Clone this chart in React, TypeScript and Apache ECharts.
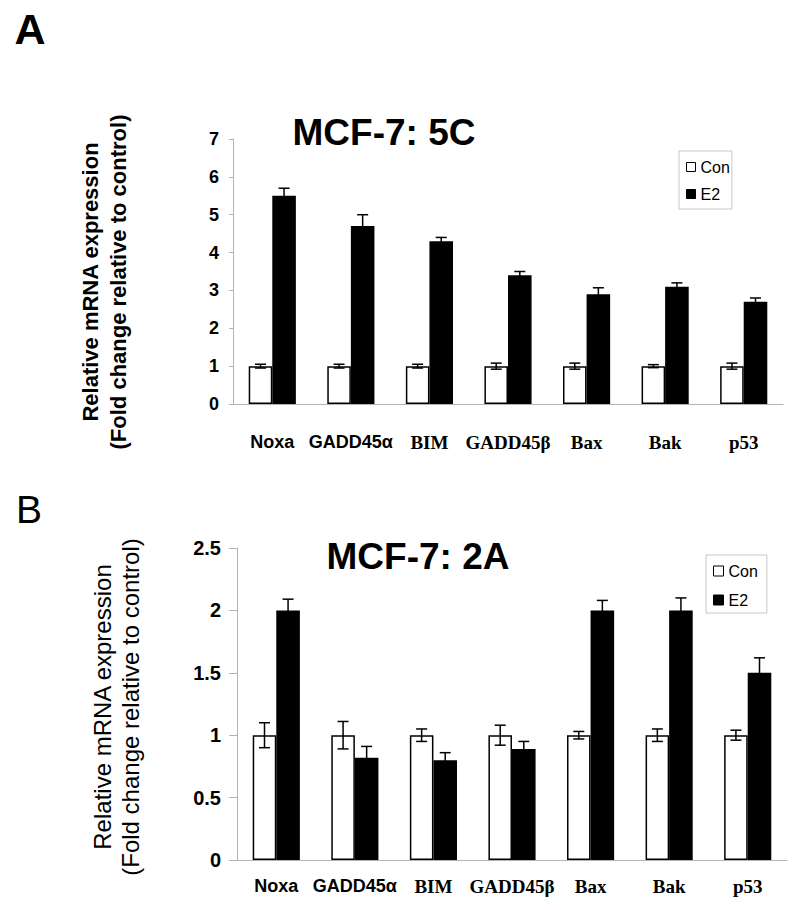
import React, { useEffect, useRef } from "react";
import * as echarts from "echarts";

const categories = ["Noxa", "GADD45α", "BIM", "GADD45β", "Bax", "Bak", "p53"];
const sansLabels = ["Noxa", "GADD45α"];

const conA = [1, 1, 1, 1, 1, 1, 1];
const conErrA = [0.05, 0.05, 0.05, 0.08, 0.08, 0.04, 0.08];
const e2A = [5.5, 4.7, 4.3, 3.4, 2.9, 3.1, 2.7];
const e2ErrA = [0.2, 0.3, 0.1, 0.1, 0.17, 0.1, 0.1];

const conB = [1, 1, 1, 1, 1, 1, 1];
const conErrB = [0.1, 0.11, 0.05, 0.08, 0.03, 0.05, 0.04];
const e2B = [2.0, 0.82, 0.8, 0.89, 2.0, 2.0, 1.5];
const e2ErrB = [0.09, 0.09, 0.06, 0.06, 0.08, 0.1, 0.12];

const SANS = "'Liberation Sans', Arial, sans-serif";
const SERIF = "'Liberation Serif', 'Times New Roman', serif";
const BAR_RATIO = 0.6;

function errData(vals: number[], errs: number[], side: number) {
  return vals.map((v, i) => [i, v, errs[i], side]);
}

function renderErr(params: any, api: any) {
  const cat = api.value(0);
  const val = api.value(1);
  const err = api.value(2);
  const side = api.value(3);
  const base = api.coord([cat, val]);
  const band = api.size([1, 0])[0];
  const bw = (band * BAR_RATIO) / 2;
  const x = base[0] + side * (bw / 2);
  const top = api.coord([cat, val + err])[1];
  const bot = api.coord([cat, val - err])[1];
  const cw = 5.5;
  const st = { stroke: "#000", lineWidth: 1.5 };
  return {
    type: "group",
    children: [
      { type: "line", shape: { x1: x, y1: top, x2: x, y2: bot }, style: st },
      { type: "line", shape: { x1: x - cw, y1: top, x2: x + cw, y2: top }, style: st },
      { type: "line", shape: { x1: x - cw, y1: bot, x2: x + cw, y2: bot }, style: st },
    ],
  };
}

const catLabelFormatter = (v: string) =>
  sansLabels.indexOf(v) >= 0 ? `{s|${v}}` : `{t|${v}}`;

const richLabels = {
  s: { fontFamily: SANS, fontWeight: "bold", fontSize: 18, color: "#000" },
  t: { fontFamily: SERIF, fontWeight: "bold", fontSize: 19, color: "#000" },
};

export default function App() {
  const ref = useRef<HTMLDivElement>(null);
  useEffect(() => {
    if (!ref.current) return;
    const chart = echarts.init(ref.current, undefined, { renderer: "svg" });
    const axisGray = "#b4b4b4";
    const legendData = [
      { name: "Con", icon: "rect", itemStyle: { color: "#fff", borderColor: "#000", borderWidth: 1 } },
      { name: "E2", icon: "rect", itemStyle: { color: "#000", borderColor: "#000", borderWidth: 1 } },
    ];
    const option: any = {
      animation: false,
      backgroundColor: "#fff",
      grid: [
        { left: 233, top: 139, width: 550, height: 265 },
        { left: 237, top: 548, width: 550, height: 312 },
      ],
      legend: [
        {
          orient: "vertical",
          left: 679,
          top: 151,
          data: legendData,
          icon: "rect",
          itemWidth: 9,
          itemHeight: 9,
          itemGap: 11,
          padding: [8, 2, 7, 7],
          borderColor: "#c8c8c8",
          borderWidth: 1,
          textStyle: { fontFamily: SANS, fontSize: 16, color: "#000" },
          selectedMode: false,
        },
        {
          orient: "vertical",
          left: 706,
          top: 555,
          data: legendData,
          icon: "rect",
          itemWidth: 10,
          itemHeight: 10,
          itemGap: 13,
          padding: [8, 9, 5, 7],
          borderColor: "#c8c8c8",
          borderWidth: 1,
          textStyle: { fontFamily: SANS, fontSize: 16, color: "#000" },
          selectedMode: false,
        },
      ],
      xAxis: [
        {
          type: "category",
          gridIndex: 0,
          data: categories,
          axisLine: { lineStyle: { color: axisGray, width: 1 } },
          axisTick: { show: false },
          axisLabel: { interval: 0, margin: 29, formatter: catLabelFormatter, rich: richLabels },
        },
        {
          type: "category",
          gridIndex: 1,
          data: categories,
          axisLine: { lineStyle: { color: axisGray, width: 1 } },
          axisTick: { show: false },
          axisLabel: { interval: 0, margin: 17, formatter: catLabelFormatter, rich: richLabels },
        },
      ],
      yAxis: [
        {
          type: "value",
          gridIndex: 0,
          min: 0,
          max: 7,
          interval: 1,
          axisLine: { show: true, lineStyle: { color: axisGray, width: 1 } },
          axisTick: { show: true, length: 4, lineStyle: { color: axisGray } },
          splitLine: { show: false },
          axisLabel: { margin: 14, fontFamily: SANS, fontWeight: "bold", fontSize: 18, color: "#000" },
        },
        {
          type: "value",
          gridIndex: 1,
          min: 0,
          max: 2.5,
          interval: 0.5,
          axisLine: { show: true, lineStyle: { color: axisGray, width: 1 } },
          axisTick: { show: true, length: 8, lineStyle: { color: axisGray } },
          splitLine: { show: false },
          axisLabel: { margin: 16, fontFamily: SANS, fontWeight: "bold", fontSize: 20, color: "#000" },
        },
      ],
      series: [
        {
          name: "Con", type: "bar", xAxisIndex: 0, yAxisIndex: 0, data: conA,
          barGap: "0%", barCategoryGap: "40%",
          itemStyle: { color: "#fff", borderColor: "#000", borderWidth: 1.5 },
        },
        {
          name: "E2", type: "bar", xAxisIndex: 0, yAxisIndex: 0, data: e2A,
          barGap: "0%", barCategoryGap: "40%",
          itemStyle: { color: "#000", borderColor: "#000", borderWidth: 1.5 },
        },
        {
          name: "Con", type: "bar", xAxisIndex: 1, yAxisIndex: 1, data: conB,
          barGap: "0%", barCategoryGap: "40%",
          itemStyle: { color: "#fff", borderColor: "#000", borderWidth: 1.5 },
        },
        {
          name: "E2", type: "bar", xAxisIndex: 1, yAxisIndex: 1, data: e2B,
          barGap: "0%", barCategoryGap: "40%",
          itemStyle: { color: "#000", borderColor: "#000", borderWidth: 1.5 },
        },
        { name: "errConA", type: "custom", xAxisIndex: 0, yAxisIndex: 0, z: 10, renderItem: renderErr, data: errData(conA, conErrA, -1) },
        { name: "errE2A", type: "custom", xAxisIndex: 0, yAxisIndex: 0, z: 10, renderItem: renderErr, data: errData(e2A, e2ErrA, 1) },
        { name: "errConB", type: "custom", xAxisIndex: 1, yAxisIndex: 1, z: 10, renderItem: renderErr, data: errData(conB, conErrB, -1) },
        { name: "errE2B", type: "custom", xAxisIndex: 1, yAxisIndex: 1, z: 10, renderItem: renderErr, data: errData(e2B, e2ErrB, 1) },
      ],
      graphic: [
        { type: "text", x: 30, y: 29, style: { text: "A", font: `bold 43px ${SANS}`, fill: "#000", align: "center", verticalAlign: "middle" } },
        { type: "text", x: 29, y: 509, style: { text: "B", font: `39px ${SANS}`, fill: "#000", align: "center", verticalAlign: "middle" } },
        { type: "text", x: 384, y: 132, style: { text: "MCF-7: 5C", font: `bold 37px ${SANS}`, fill: "#000", align: "center", verticalAlign: "middle" } },
        { type: "text", x: 418, y: 556, style: { text: "MCF-7: 2A", font: `bold 37px ${SANS}`, fill: "#000", align: "center", verticalAlign: "middle" } },
        {
          type: "text", x: 104, y: 282, rotation: Math.PI / 2,
          style: {
            text: "Relative mRNA expression\n(Fold change relative to control)",
            font: `bold 22px ${SANS}`, lineHeight: 28, fill: "#000", align: "center", verticalAlign: "middle",
          },
        },
        {
          type: "text", x: 116, y: 707, rotation: Math.PI / 2,
          style: {
            text: "Relative mRNA expression\n(Fold change relative to control)",
            font: `24px ${SANS}`, lineHeight: 28, fill: "#000", align: "center", verticalAlign: "middle",
          },
        },
      ],
    };
    chart.setOption(option);
    return () => chart.dispose();
  }, []);
  return (
    <div
      ref={ref}
      style={{ position: "absolute", left: 0, top: 0, width: 800, height: 910, background: "#fff" }}
    />
  );
}
